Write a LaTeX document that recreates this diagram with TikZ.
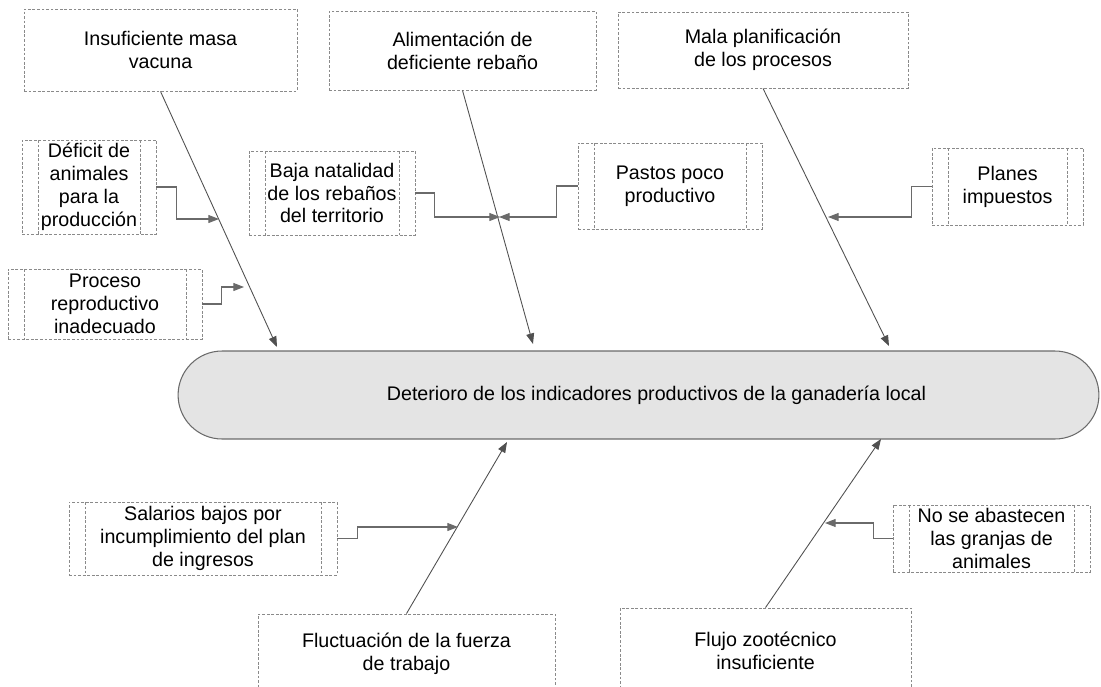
\documentclass[tikz,border=0pt]{standalone}
\usepackage{fontspec}
\setmainfont{Liberation Sans}
\usepackage{tikz}
\usetikzlibrary{arrows.meta}
\definecolor{borde}{HTML}{8A8A8A}
\definecolor{espina}{HTML}{505050}
\definecolor{codo}{HTML}{6A6A6A}
\definecolor{fondo}{HTML}{E4E4E4}
\begin{document}
\begin{tikzpicture}[x=0.02cm,y=-0.02cm,every node/.style={font=\fontsize{11.2}{13}\selectfont, align=center, inner sep=0pt},
	causa/.style={draw=borde, line width=0.5pt, dash pattern=on 1.6pt off 1pt},
	subcausa/.style={causa, path picture={
			\draw[borde, line width=0.5pt, dash pattern=on 1.6pt off 1pt] ([xshift=0.32cm]path picture bounding box.north west) -- ([xshift=0.32cm]path picture bounding box.south west);
			\draw[borde, line width=0.5pt, dash pattern=on 1.6pt off 1pt] ([xshift=-0.32cm]path picture bounding box.north east) -- ([xshift=-0.32cm]path picture bounding box.south east);}},
	efectobox/.style={draw=codo, fill=fondo, line width=0.6pt, rounded corners=0.88cm},
	espinaline/.style={draw=espina, line width=0.5pt, -{Triangle[length=6pt,width=4.5pt]}},
	codoline/.style={draw=codo, line width=0.6pt, -{Triangle[length=6pt,width=4.5pt]}}]
	
	\clip (0,0) rectangle (1101,686);
	
	\node[efectobox, minimum width=18.42cm, minimum height=1.76cm] (efecto) at (638.5,395) {\hspace*{0.72cm}Deterioro de los indicadores productivos de la ganadería local};
	
	\node[causa, minimum width=5.46cm, minimum height=1.64cm] (masa) at (160.5,50) {Insuficiente masa\\vacuna};
	\node[causa, minimum width=5.34cm, minimum height=1.58cm] (alimentacion) at (462.5,50.5) {Alimentación de\\deficiente rebaño};
	\node[causa, minimum width=5.80cm, minimum height=1.52cm] (planificacion) at (763,50) {Mala planificación\\de los procesos};
	\node[causa, minimum width=5.94cm, minimum height=1.60cm] (fluctuacion) at (406.5,654) {Fluctuación de la fuerza\\de trabajo};
	\node[causa, minimum width=5.82cm, minimum height=1.70cm] (flujo) at (765.5,650.5) {Flujo zootécnico\\insuficiente};
	
	\node[subcausa, minimum width=2.68cm, minimum height=1.88cm] (deficit) at (89,187) {Déficit de\\animales\\para la\\producción};
	\node[subcausa, minimum width=3.88cm, minimum height=1.40cm] (proceso) at (105,304) {Proceso\\reproductivo\\inadecuado};
	\node[subcausa, minimum width=3.32cm, minimum height=1.68cm] (natalidad) at (332,193) {Baja natalidad\\de los rebaños\\del territorio};
	\node[subcausa, minimum width=3.68cm, minimum height=1.72cm] (pastos) at (670,186) {Pastos poco\\productivo};
	\node[subcausa, minimum width=3.02cm, minimum height=1.54cm] (planes) at (1007.5,186.5) {Planes\\impuestos};
	\node[subcausa, minimum width=5.36cm, minimum height=1.46cm] (salarios) at (203,538.5) {Salarios bajos por\\incumplimiento del plan\\de ingresos};
	\node[subcausa, minimum width=3.94cm, minimum height=1.34cm] (abasto) at (991.5,538.5) {No se abastecen\\las granjas de\\animales};
	
	\coordinate (pmasa) at (277,347);
	\coordinate (palimentacion) at (533,344);
	\coordinate (pplanificacion) at (889,346);
	\coordinate (pfluctuacion) at (507,442);
	\coordinate (pflujo) at (881,439);
	
	\draw[espinaline] (masa.south) -- (pmasa);
	\draw[espinaline] (alimentacion.south) -- (palimentacion);
	\draw[espinaline] (planificacion.south) -- (pplanificacion);
	\draw[espinaline] (fluctuacion.north) -- (pfluctuacion);
	\draw[espinaline] (flujo.north) -- (pflujo);
	
	\coordinate (pdeficit) at (219,219);
	\coordinate (pproceso) at (244,287);
	\coordinate (pnatalidad) at (500,217);
	\coordinate (ppastos) at (499,217);
	\coordinate (pplanes) at (828,217);
	\coordinate (psalarios) at (458,527);
	\coordinate (pabasto) at (825,523);
	
	\draw[codoline] (deficit.east) -- ++(20,0) |- (pdeficit);
	\draw[codoline] (proceso.east) -- ++(19,0) |- (pproceso);
	\draw[codoline] (natalidad.east) -- ++(19,0) |- (pnatalidad);
	\draw[codoline] (pastos.west) -- ++(-21,0) |- (ppastos);
	\draw[codoline] (planes.west) -- ++(-20,0) |- (pplanes);
	\draw[codoline] (salarios.east) -- ++(20,0) |- (psalarios);
	\draw[codoline] (abasto.west) -- ++(-19,0) |- (pabasto);
\end{tikzpicture}
\end{document}
